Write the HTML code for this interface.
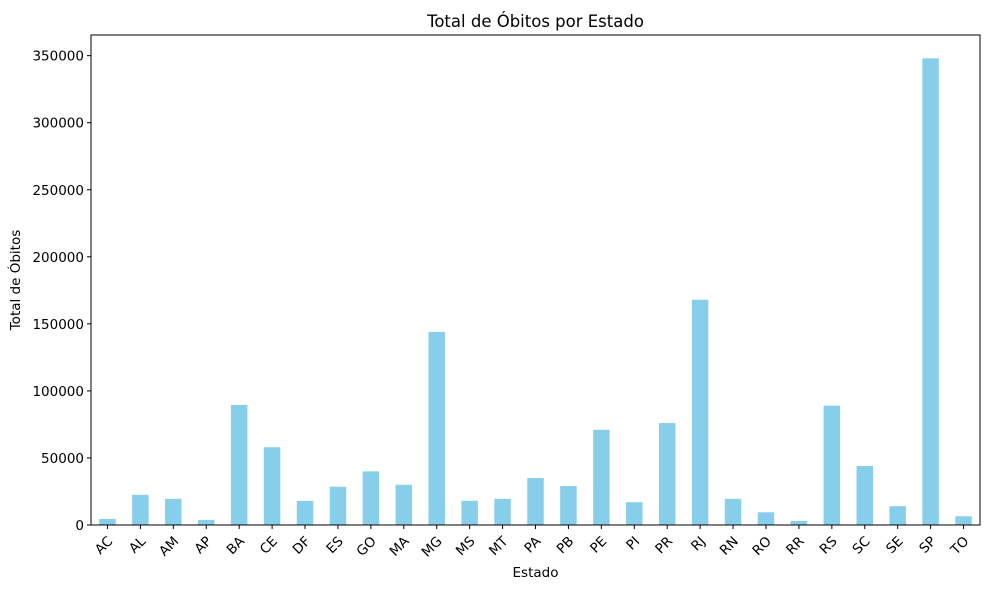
<!DOCTYPE html>
<html><head><meta charset="utf-8">
<style>body{margin:0;background:#fff}svg{font-family:"DejaVu Sans","Liberation Sans",sans-serif}</style>
</head><body>
<svg id="chart" width="989" height="590" viewBox="0 0 989 590" xmlns="http://www.w3.org/2000/svg">
<text x="535.5" y="27" text-anchor="middle" font-size="16.5">Total de Óbitos por Estado</text>
<text x="535.5" y="577" text-anchor="middle" font-size="13.5">Estado</text>
<text transform="translate(20,280) rotate(-90)" text-anchor="middle" font-size="13.5">Total de Óbitos</text>
<g id="bars"></g><g id="axes"></g>
</svg>
<script>
const categories=["AC","AL","AM","AP","BA","CE","DF","ES","GO","MA","MG","MS","MT","PA","PB","PE","PI","PR","RJ","RN","RO","RR","RS","SC","SE","SP","TO"];
const values=[4500,22500,19500,3800,89500,58000,18000,28500,40000,30000,144000,18000,19500,35000,29000,71000,17000,76000,168000,19500,9500,3000,89000,44000,14000,348000,6500];
const yTicks=[0,50000,100000,150000,200000,250000,300000,350000];
const L=91,R=980,T=35,B=525;
const yMax=Math.max(...values)*1.05;
const ns="http://www.w3.org/2000/svg";
const step=(R-L)/categories.length;
const x=i=>L+step*(i+0.5);
const y=v=>B-(v/yMax)*(B-T);
function mk(tag,attrs,parent,text){const e=document.createElementNS(ns,tag);for(const k in attrs)e.setAttribute(k,attrs[k]);if(text!==undefined)e.textContent=text;parent.appendChild(e);return e;}
const bars=document.getElementById('bars'),axes=document.getElementById('axes');
values.forEach((v,i)=>{
 const r=mk('rect',{x:x(i)-step/4,y:y(v),width:step/2,height:B-y(v),fill:'#87ceeb'},bars);
 
 
});
mk('rect',{x:L,y:T,width:R-L,height:B-T,fill:'none',stroke:'#000','stroke-width':1},axes);
yTicks.forEach(t=>{
 mk('line',{x1:L-4,x2:L,y1:y(t),y2:y(t),stroke:'#000'},axes);
 const tx=mk('text',{x:L-7,y:y(t)+5,'text-anchor':'end','font-size':13.5},axes,String(t));
 
 
});
categories.forEach((c,i)=>{
 mk('line',{x1:x(i),x2:x(i),y1:B,y2:B+4,stroke:'#000'},axes);
 const tx=mk('text',{transform:`translate(${x(i)+6},${B+17}) rotate(-45)`,'text-anchor':'end','font-size':13.5},axes,c);
 
 
});
</script>
</body></html>
